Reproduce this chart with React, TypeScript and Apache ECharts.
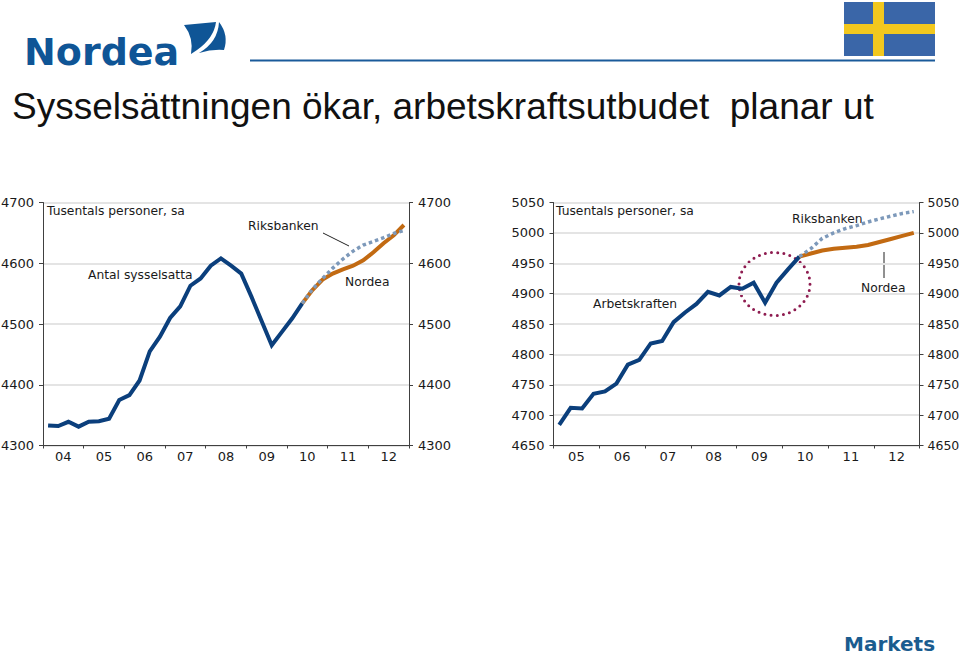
import React, { useEffect, useRef } from "react";
import * as echarts from "echarts";

const leftYears = ["04", "05", "06", "07", "08", "09", "10", "11", "12"];
const rightYears = ["05", "06", "07", "08", "09", "10", "11", "12"];
const leftQuarters = leftYears.flatMap((y) => ["Q1", "Q2", "Q3", "Q4"].map((q) => y + q));
const rightQuarters = rightYears.flatMap((y) => ["Q1", "Q2", "Q3", "Q4"].map((q) => y + q));

const employed = [4333, 4332, 4339, 4331, 4339, 4340, 4344, 4375, 4383, 4407, 4455, 4479, 4510, 4529, 4563, 4575, 4596, 4608, 4596, 4583, 4545, 4505, 4465, 4487, 4509, 4534];
const employedNordea = [4534, 4556, 4573, 4583, 4590, 4596, 4605, 4618, 4633, 4646, 4663];
const employedRiks = [4534, 4557, 4575, 4592, 4607, 4620, 4630, 4636, 4642, 4649, 4654];

const labour = [4684, 4712, 4711, 4735, 4739, 4752, 4783, 4791, 4818, 4822, 4853, 4869, 4883, 4903, 4897, 4911, 4908, 4918, 4885, 4918, 4940, 4961];
const labourNordea = [4961, 4966, 4971, 4974, 4975.5, 4977, 4980, 4985, 4990, 4995, 5000];
const labourRiks = [4961, 4974, 4991, 5000, 5007, 5012, 5018, 5023, 5027.5, 5032, 5035];

const BLUE = "#0b3f7c";
const ORANGE = "#c26a12";
const DOTTED = "#7d99ba";
const AXIS = "#404040";
const GRID = "#e4e4e4";
const LOGO = "#0f5596";
const FONT = "'DejaVu Sans', sans-serif";

const pad = (n: number, arr: number[]) => [...Array(n).fill(null), ...arr];

const lineSeries = (idx: number, data: (number | null)[], color: string, dashed = false) => ({
  type: "line",
  xAxisIndex: idx,
  yAxisIndex: idx,
  data,
  symbol: "none",
  silent: true,
  connectNulls: false,
  lineStyle: { color, width: dashed ? 3.5 : 4, type: dashed ? ([3.5, 3] as number[]) : "solid", cap: "butt", join: "miter" },
});

const yAxis = (gridIndex: number, min: number, max: number, interval: number, position: string, primary: boolean, fontSize = 13, margin = 9) => ({
  type: "value",
  gridIndex,
  min,
  max,
  interval,
  position,
  axisLine: { show: true, onZero: false, lineStyle: { color: AXIS, width: 1 } },
  axisTick: { show: true, length: 4, lineStyle: { color: AXIS } },
  axisLabel: { color: "#1a1a1a", fontFamily: FONT, fontSize, margin, formatter: (v: number) => String(v) },
  splitLine: { show: primary, lineStyle: { color: GRID, width: 2 } },
});

const quarterAxis = (gridIndex: number, data: string[]) => ({
  type: "category",
  gridIndex,
  data,
  position: "bottom",
  boundaryGap: true,
  axisLine: { show: false, onZero: false },
  axisTick: { show: false },
  axisLabel: { show: false },
  splitLine: { show: false },
});

const yearAxis = (gridIndex: number, data: string[]) => ({
  type: "category",
  gridIndex,
  data,
  position: "bottom",
  boundaryGap: true,
  axisLine: { show: true, onZero: false, lineStyle: { color: AXIS, width: 1 } },
  axisTick: { show: true, length: 3, interval: 0, lineStyle: { color: AXIS } },
  axisLabel: { color: "#1a1a1a", fontFamily: FONT, fontSize: 13, margin: 4, interval: 0 },
  splitLine: { show: false },
});

const note = (text: string, x: number, y: number, size = 12.3) => ({
  type: "text",
  x,
  y,
  silent: true,
  style: { text, fill: "#1a1a1a", font: `${size}px ${FONT}`, textAlign: "left", textVerticalAlign: "middle" },
});

const rule = (x1: number, y1: number, x2: number, y2: number, stroke = "#222222", lineWidth = 1) => ({
  type: "line",
  silent: true,
  shape: { x1, y1, x2, y2 },
  style: { stroke, lineWidth },
});

const box = (x: number, y: number, width: number, height: number, fill: string) => ({
  type: "rect",
  silent: true,
  shape: { x, y, width, height },
  style: { fill },
});

echarts.graphic.registerShape(
  "sailLeft",
  echarts.graphic.extendPath("M184 25 L216 22 Q214 38 197 50 L191 54 Q194 38 184 25 Z", {}) as any
);
echarts.graphic.registerShape(
  "sailRight",
  echarts.graphic.extendPath("M219 22 Q229 35 224 50 Q212 49 199 53 Q218 42 219 22 Z", {}) as any
);

export default function App() {
  const ref = useRef<HTMLDivElement>(null);
  useEffect(() => {
    const chart = echarts.init(ref.current!, undefined, { renderer: "svg" });
    chart.setOption({
      animation: false,
      backgroundColor: "#ffffff",
      grid: [
        { left: 43, right: 551, top: 202.5, height: 243, containLabel: false, outerBoundsMode: "none" },
        { left: 553.5, right: 40.5, top: 202.5, height: 243, containLabel: false, outerBoundsMode: "none" },
      ],
      xAxis: [
        quarterAxis(0, leftQuarters),
        quarterAxis(1, rightQuarters),
        yearAxis(0, leftYears),
        yearAxis(1, rightYears),
      ],
      yAxis: [
        yAxis(0, 4300, 4700, 100, "left", true),
        yAxis(1, 4650, 5050, 50, "left", true),
        yAxis(0, 4300, 4700, 100, "right", false),
        yAxis(1, 4650, 5050, 50, "right", false, 12.5, 8),
      ],
      series: [
        lineSeries(0, employed, BLUE),
        lineSeries(0, pad(25, employedNordea), ORANGE),
        lineSeries(0, pad(25, employedRiks), DOTTED, true),
        lineSeries(1, labour, BLUE),
        lineSeries(1, pad(21, labourNordea), ORANGE),
        lineSeries(1, pad(21, labourRiks), DOTTED, true),
      ],
      graphic: [
        {
          type: "text",
          x: 12,
          y: 106,
          silent: true,
          style: {
            text: "Sysselsättningen ökar, arbetskraftsutbudet  planar ut",
            fill: "#111111",
            font: "37px 'Liberation Sans', Arial, sans-serif",
            textVerticalAlign: "middle",
          },
        },
        {
          type: "text",
          x: 24,
          y: 52,
          silent: true,
          style: { text: "Nordea", fill: LOGO, font: `bold 38px ${FONT}`, textVerticalAlign: "middle" },
        },
        { type: "sailLeft", silent: true, style: { fill: LOGO } },
        { type: "sailRight", silent: true, style: { fill: LOGO } },
        rule(250, 60.5, 935, 60.5, "#1a5a9a", 2),
        box(844, 2, 91, 54, "#3a66a8"),
        box(873, 2, 11, 54, "#f2c81e"),
        box(844, 24, 91, 10, "#f2c81e"),
        {
          type: "text",
          x: 844,
          y: 644,
          silent: true,
          style: { text: "Markets", fill: "#1a5c8f", font: `bold 20px ${FONT}`, textVerticalAlign: "middle" },
        },
        note("Tusentals personer, sa", 47, 210.5),
        note("Riksbanken", 248, 226),
        note("Antal sysselsatta", 88, 275),
        note("Nordea", 345, 282),
        rule(323, 233, 349, 246),
        note("Tusentals personer, sa", 556, 210.5),
        note("Riksbanken", 792, 218.5),
        note("Arbetskraften", 593, 303.5),
        note("Nordea", 861, 288),
        rule(884, 252, 884, 278),
        {
          type: "ellipse",
          silent: true,
          shape: { cx: 774.5, cy: 284, rx: 35.5, ry: 31.5 },
          style: { fill: "none", stroke: "#8e1c50", lineWidth: 3, lineDash: [0, 6.2], lineCap: "round" },
        },
      ],
    });
    return () => chart.dispose();
  }, []);
  return <div ref={ref} style={{ position: "absolute", left: 0, top: 0, width: 960, height: 655 }} />;
}
